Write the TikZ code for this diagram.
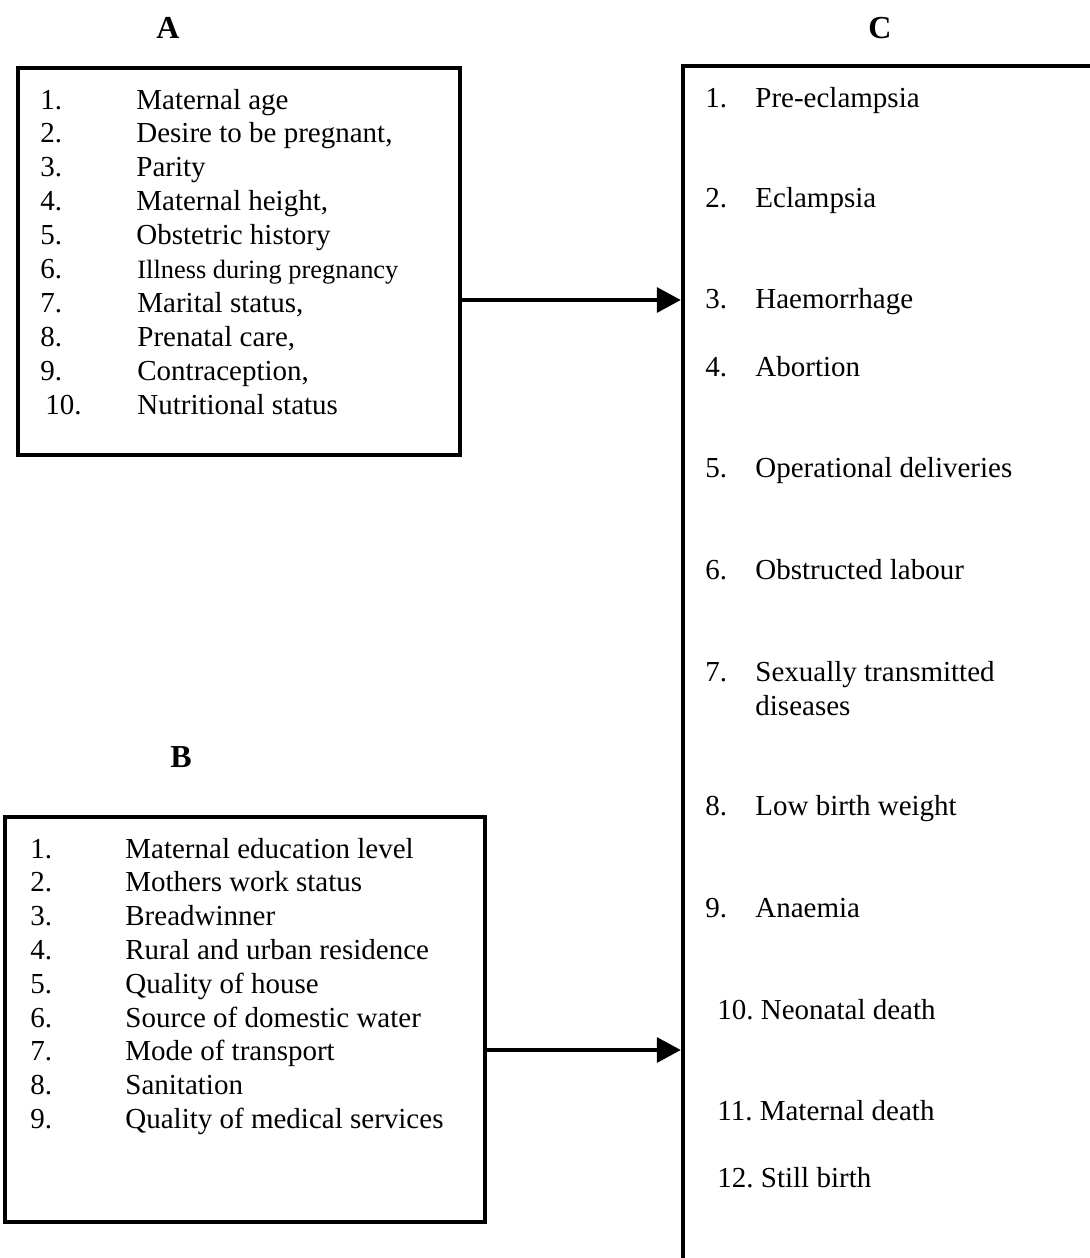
\documentclass[tikz,border=0pt]{standalone}
\usepackage{fontspec}
\setmainfont{Liberation Serif}
\usetikzlibrary{arrows.meta}
\begin{document}
\begin{tikzpicture}[x=0.5pt,y=-0.5pt,
  frame/.style={draw,line width=2.2pt,inner sep=0pt,rectangle},
  item/.style={anchor=base west,inner sep=0pt,font=\fontsize{14.5}{17}\selectfont},
  smallitem/.style={anchor=base west,inner sep=0pt,font=\fontsize{13.2}{16}\selectfont},
  title/.style={inner sep=0pt,font=\fontsize{16}{19}\selectfont\bfseries},
  link/.style={line width=1.7pt,-{Triangle[length=12pt,width=12.5pt]}}]
\useasboundingbox (0,0) rectangle (1090,1258);
\clip (0,0) rectangle (1090,1258);
% titles
\node[title] (tA) at (168,28) {A};
\node[title] (tC) at (880,28) {C};
\node[title] (tB) at (181,757) {B};
% boxes
\node[frame,minimum width=221pt,minimum height=193.5pt] (boxA) at (239,261.5) {};
\node[frame,minimum width=240pt,minimum height=202.5pt] (boxB) at (245,1019.5) {};
\node[frame,minimum width=213.5pt,minimum height=607pt] (boxC) at (896.5,673) {};
% box A items
\foreach \n/\t [count=\i from 0] in {1./Maternal age,2./{Desire to be pregnant,},3./Parity,4./{Maternal height,},5./Obstetric history}{
  \node[item] (an\i) at (40,109+33.9*\i) {\n};
  \node[item] (at\i) at (136,109+33.9*\i) {\t};
}
\node[item] (an5) at (40,109+33.9*5) {6.};
\node[smallitem] (at5) at (137,109+33.9*5) {Illness during pregnancy};
\foreach \n/\t [count=\i from 6] in {7./{Marital status,},8./{Prenatal care,},9./{Contraception,}}{
  \node[item] (an\i) at (40,109+33.9*\i) {\n};
  \node[item] (at\i) at (137,109+33.9*\i) {\t};
}
\node[item] (an9) at (45,109+33.9*9) {10.};
\node[item] (at9) at (137,109+33.9*9) {Nutritional status};
% box B items
\foreach \n/\t [count=\i from 0] in {1./Maternal education level,2./Mothers work status,3./Breadwinner,4./Rural and urban residence,5./Quality of house,6./Source of domestic water,7./Mode of transport,8./Sanitation,9./Quality of medical services}{
  \node[item] (bn\i) at (30,858+33.8*\i) {\n};
  \node[item] (bt\i) at (125,858+33.8*\i) {\t};
}
% box C items
\foreach \n/\t/\y [count=\i] in {1./Pre-eclampsia/98,2./Eclampsia/198,3./Haemorrhage/299,4./Abortion/367,5./Operational deliveries/468,6./Obstructed labour/570,8./Low birth weight/806,9./Anaemia/908}{
  \node[item] (cn\i) at (705,\y+9) {\n};
  \node[item] (ct\i) at (755,\y+9) {\t};
}
\node[item] (cn7) at (705,672+9) {7.};
\node[item,align=left,anchor=north west] (ct7) at (755,661) {Sexually transmitted\\diseases};
\foreach \n/\t/\y [count=\i from 10] in {10./Neonatal death/1010,11./Maternal death/1111,12./Still birth/1178}{
  \node[item] (cn\i) at (717,\y+9) {\n\ \t};
}
% connectors
\coordinate (yA) at (0,300);
\coordinate (yB) at (0,1050);
\draw[link] (boxA.east |- yA) -- (boxC.west |- yA);
\draw[link] (boxB.east |- yB) -- (boxC.west |- yB);
\end{tikzpicture}
\end{document}
